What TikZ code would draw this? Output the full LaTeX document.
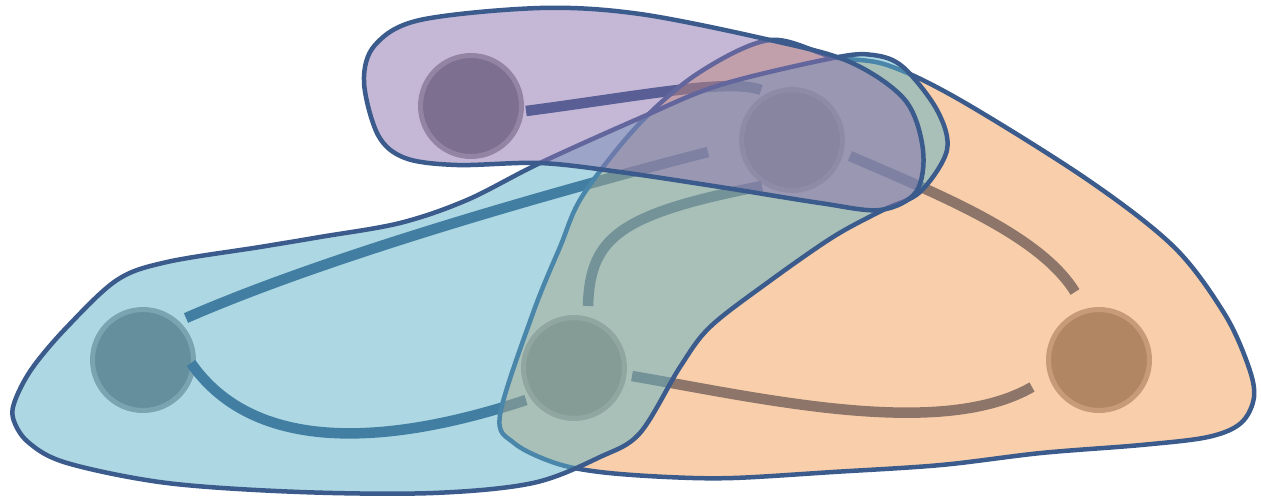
\documentclass[tikz,border=0pt]{standalone}
\usetikzlibrary{calc}
\definecolor{corvertice}{RGB}{112,110,113}
\definecolor{coranel}{RGB}{156,152,156}
\definecolor{coraresta}{RGB}{40,76,126}
\definecolor{corcontorno}{RGB}{58,91,139}
\definecolor{corlaranja}{RGB}{243,159,87}
\definecolor{corazul}{RGB}{91,177,199}
\definecolor{corroxo}{RGB}{139,113,173}

\begin{document}
\begin{tikzpicture}[
    x=0.02cm, y=-0.02cm,
    vertice/.style={
        circle,
        fill=corvertice,
        draw=coranel,
        line width=0.1cm,
        minimum size=2.02cm,
        inner sep=0pt
    },
    aresta/.style={draw=coraresta, line width=0.21cm},
    hiperaresta/.style={draw=corcontorno, line width=0.09cm, fill opacity=0.5}
]
\useasboundingbox (0,0) rectangle (1261,498);

% VERTICES
\node[vertice] (v1) at (471,106) {};
\node[vertice] (v2) at (792,140) {};
\node[vertice] (v3) at (143,360) {};
\node[vertice] (v4) at (574,368) {};
\node[vertice] (v5) at (1099,360) {};

% ARESTAS
\draw[aresta] ($(v1)+(55,5)$) .. controls +(114,-15) and +(-31,-12) .. ($(v2)+(-31,-50)$);
\draw[aresta] ($(v3)+(43,-42)$) .. controls +(144,-63) and +(-148,38) .. ($(v2)+(-84,12)$);
\draw[aresta] ($(v3)+(48,3)$) .. controls +(64,92) and +(-136,45) .. ($(v4)+(-48,32)$);
\draw[aresta] ($(v4)+(14,-62)$) .. controls +(2,-68) and +(-144,28) .. ($(v2)+(-30,46)$);
\draw[aresta] ($(v2)+(58,16)$) .. controls +(90,39) and +(-35,-57) .. ($(v5)+(-24,-68)$);
\draw[aresta] ($(v4)+(58,8)$) .. controls +(128,22) and +(-92,53) .. ($(v5)+(-67,27)$);

% HIPERARESTAS
\draw[hiperaresta, fill=corlaranja] plot[smooth cycle, tension=0.55] coordinates {
    (500,415) (533,313) (560,247) (583,195) (640,123) (700,72) (770,40)
    (833,57) (887,65) (960,100) (1088,180) (1174,247) (1224,313) (1248,365)
    (1254,397) (1241,423) (1208,437) (1141,445) (1041,453) (941,465) (833,472)
    (733,478) (667,477) (600,472) (555,463) (514,443)};
\draw[hiperaresta, fill=corazul] plot[smooth cycle, tension=0.55] coordinates {
    (33,367) (67,327) (117,280) (167,262) (260,247) (320,237) (400,223)
    (467,200) (540,163) (640,118) (720,85) (833,58) (873,55) (903,67)
    (937,110) (947,150) (920,192) (883,210) (833,237) (767,283) (710,327)
    (680,367) (640,433) (600,457) (533,483) (433,493) (300,492) (167,483)
    (67,463) (28,442) (13,418) (16,398)};
\draw[hiperaresta, fill=corroxo] plot[smooth cycle, tension=0.55] coordinates {
    (364,82) (375,45) (420,20) (540,8) (640,14) (770,40) (850,62) (905,100)
    (923,150) (916,192) (880,210) (820,203) (720,187) (620,172) (540,163)
    (457,165) (405,158) (378,135)};

\end{tikzpicture}
\end{document}
